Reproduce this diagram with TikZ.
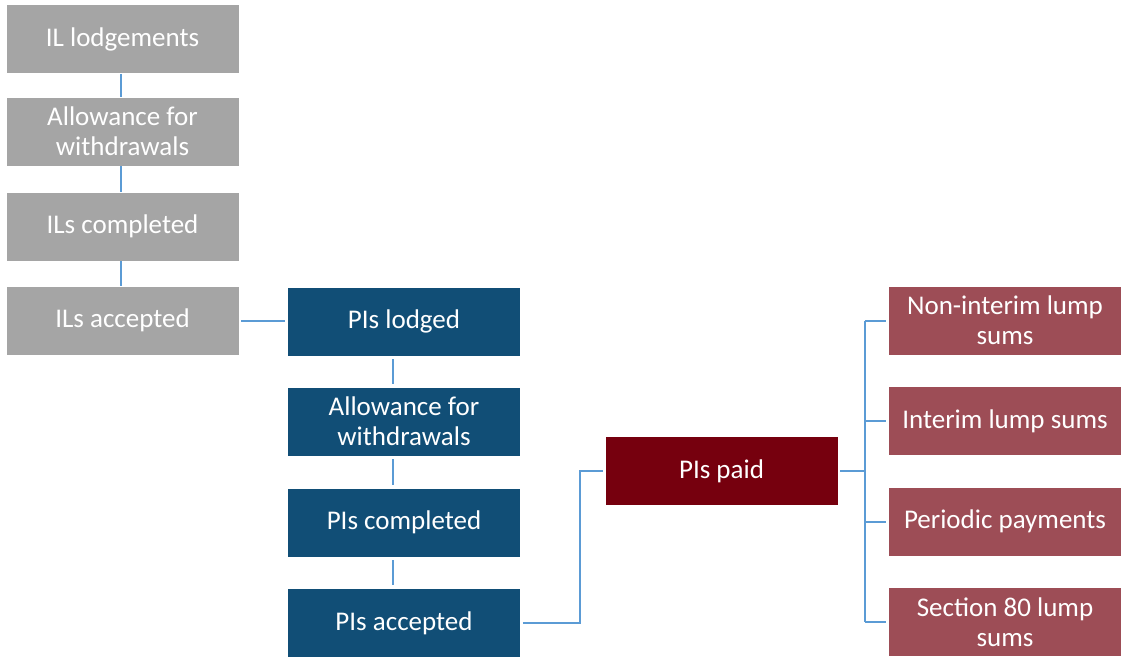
\documentclass[tikz,border=0pt]{standalone}
\usepackage{fontspec}
\setmainfont{Carlito}
\definecolor{ilgrey}{RGB}{165,165,165}
\definecolor{piblue}{RGB}{17,78,118}
\definecolor{paidred}{RGB}{118,0,14}
\definecolor{outrose}{RGB}{157,77,86}
\definecolor{linkblue}{RGB}{91,155,213}
\begin{document}
\begin{tikzpicture}[x=1pt,y=-1pt,
        box/.style={draw=white, line width=0.6pt, text=white, align=center,
            minimum width=233pt, minimum height=69pt, inner sep=2pt,
            font=\fontsize{27}{30}\selectfont},
        link/.style={linkblue, line width=2pt}]
        \useasboundingbox (0,0) rectangle (1121,657);
        \def\wL{122.5}
        \def\wM{404}
        \def\wP{721.5}
        \def\wR{1005}

        % interim lodgements column
        \node[box, fill=ilgrey] (il1) at (\wL,39) {IL lodgements};
        \node[box, fill=ilgrey] (il2) at (\wL,131.5) {Allowance for\\withdrawals};
        \node[box, fill=ilgrey] (il3) at (\wL,226.5) {ILs completed};
        \node[box, fill=ilgrey] (il4) at (\wL,320.5) {ILs accepted};

        % primary interim column
        \node[box, fill=piblue] (pi1) at (\wM,321.5) {PIs lodged};
        \node[box, fill=piblue] (pi2) at (\wM,421.5) {Allowance for\\withdrawals};
        \node[box, fill=piblue] (pi3) at (\wM,522.5) {PIs completed};
        \node[box, fill=piblue] (pi4) at (\wM,623) {PIs accepted};

        \node[box, fill=paidred] (paid) at (\wP,471) {PIs paid};

        % payment types
        \node[box, fill=outrose] (out1) at (\wR,320.5) {Non-interim lump\\sums};
        \node[box, fill=outrose] (out2) at (\wR,421) {Interim lump sums};
        \node[box, fill=outrose] (out3) at (\wR,521.5) {Periodic payments};
        \node[box, fill=outrose] (out4) at (\wR,622) {Section 80 lump\\sums};

        \foreach \a/\b in {1/2,2/3,3/4} {
            \draw[link] ([xshift=-1.5pt]il\a.south) -- ([xshift=-1.5pt]il\b.north);
            \draw[link] ([xshift=-11pt,yshift=-3pt]pi\a.south) -- ([xshift=-11pt,yshift=3pt]pi\b.north);
        }
        \draw[link] ([xshift=2pt]il4.east) -- ([xshift=-2pt]il4.east -| pi1.west);

        \coordinate (bend) at (580,623);
        \draw[link] ([xshift=2pt]pi4.east) -- (bend) |- ([xshift=-2pt]paid.west);

        \coordinate (trunk) at (865,471);
        \draw[link] ([xshift=2pt]paid.east) -- (trunk);
        \draw[link] (trunk |- out1.west) -- (trunk |- out4.west);
        \foreach \i in {1,...,4} {
            \draw[link] (trunk |- out\i.west) -- ([xshift=-2pt]out\i.west);
        }
    \end{tikzpicture}
\end{document}
